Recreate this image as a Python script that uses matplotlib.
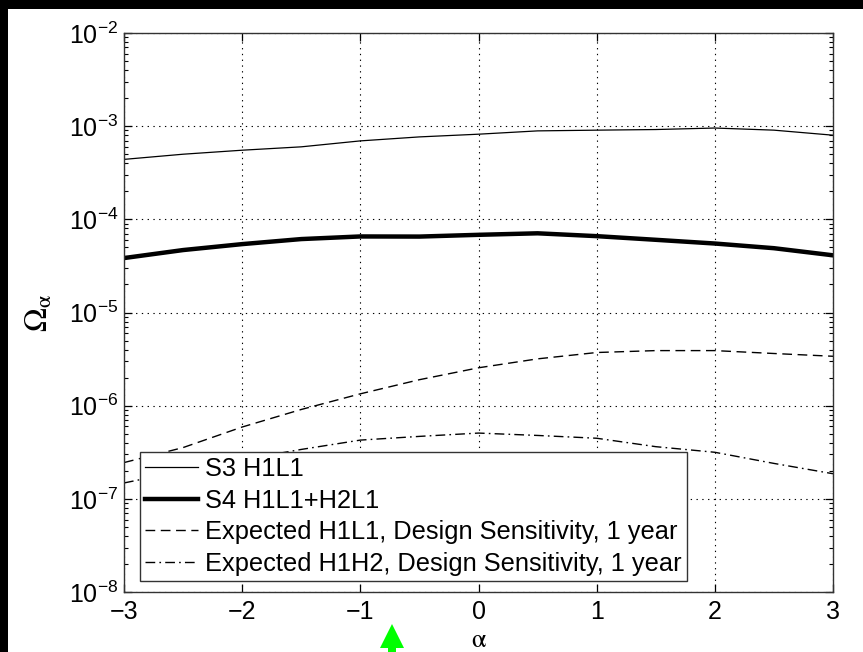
import numpy as np
import matplotlib
matplotlib.use("Agg")
import matplotlib.pyplot as plt
import matplotlib.ticker as ticker
from matplotlib.patches import Rectangle, Polygon

plt.rcParams["font.family"] = ["Liberation Sans", "DejaVu Sans"]
plt.rcParams["mathtext.fontset"] = "custom"
plt.rcParams["mathtext.rm"] = "Liberation Sans"
plt.rcParams["mathtext.it"] = "Liberation Sans:italic"
plt.rcParams["mathtext.bf"] = "Liberation Sans:bold"

# spectral index alpha and Omega_alpha upper limits / sensitivities
alpha = [-3.0, -2.5, -2.0, -1.5, -1.0, -0.5, 0.0, 0.5, 1.0, 1.5, 2.0, 2.5, 3.0]
s3_h1l1 = [4.40e-4, 5.00e-4, 5.52e-4, 6.00e-4, 6.95e-4, 7.67e-4, 8.20e-4,
           8.90e-4, 9.06e-4, 9.20e-4, 9.55e-4, 9.06e-4, 8.00e-4]
s4_h1l1_h2l1 = [3.84e-5, 4.68e-5, 5.42e-5, 6.14e-5, 6.55e-5, 6.53e-5, 6.82e-5,
                7.08e-5, 6.60e-5, 6.03e-5, 5.50e-5, 4.90e-5, 4.11e-5]
exp_h1l1 = [2.45e-7, 3.55e-7, 5.90e-7, 9.10e-7, 1.34e-6, 1.90e-6, 2.55e-6,
            3.18e-6, 3.72e-6, 3.90e-6, 3.90e-6, 3.63e-6, 3.39e-6]
exp_h1h2 = [1.48e-7, 2.00e-7, 2.63e-7, 3.39e-7, 4.27e-7, 4.68e-7, 5.08e-7,
            4.79e-7, 4.47e-7, 3.63e-7, 3.16e-7, 2.40e-7, 1.86e-7]

labels = ["S3 H1L1", "S4 H1L1+H2L1",
          "Expected H1L1, Design Sensitivity, 1 year",
          "Expected H1H2, Design Sensitivity, 1 year"]
xticks = [-3, -2, -1, 0, 1, 2, 3]
yticks = [1e-8, 1e-7, 1e-6, 1e-5, 1e-4, 1e-3, 1e-2]


def main():
    fig = plt.figure(figsize=(8.63, 6.52), dpi=100, facecolor="black")
    # white page area (black strip on top and left)
    fig.patches.append(Rectangle((8 / 863, 0), 1, 1 - 9 / 652, transform=fig.transFigure,
                                 facecolor="white", edgecolor="none", zorder=-10))
    ax = fig.add_axes([124 / 863, 1 - 592 / 652, 709 / 863, 559 / 652])
    ax.set_facecolor("white")

    ax.plot(alpha, s3_h1l1, color="black", lw=0.9, label=labels[0])
    ax.plot(alpha, s4_h1l1_h2l1, color="black", lw=3.2, label=labels[1])
    ax.plot(alpha, exp_h1l1, color="black", lw=1.0, dashes=(7, 4), label=labels[2])
    ax.plot(alpha, exp_h1h2, color="black", lw=1.0, dashes=(7, 3, 1.2, 3), label=labels[3])

    ax.set_yscale("log")
    ax.set_xlim(-3, 3)
    ax.set_ylim(1e-8, 1e-2)
    ax.set_xticks(xticks)
    ax.set_yticks(yticks)
    ax.yaxis.set_minor_locator(ticker.LogLocator(base=10, subs=np.arange(2, 10), numticks=100))
    ax.yaxis.set_minor_formatter(ticker.NullFormatter())

    ax.grid(True, which="major", color="black", lw=0.8, linestyle=(0, (1.2, 4)))
    ax.tick_params(which="both", direction="in", top=True, right=True, labelsize=18)
    ax.tick_params(which="major", length=6, width=0.9)
    ax.tick_params(which="minor", length=3, width=0.8)
    ax.tick_params(axis="x", pad=6)
    ax.tick_params(axis="y", pad=4)
    for sp in ax.spines.values():
        sp.set_linewidth(1.0)
        sp.set_color("#333333")

    ax.set_xlabel(r"$\mathrm{\alpha}$", fontsize=19, math_fontfamily="stix")
    ax.set_ylabel(r"$\mathrm{\Omega_{\alpha}}$", fontsize=23, math_fontfamily="stix", rotation=90)
    ax.xaxis.set_label_coords(0.5, -0.065)
    ax.yaxis.set_label_coords(-0.098, 0.5)

    leg = ax.legend(loc="lower left", bbox_to_anchor=(0.0226, 0.0197), fontsize=18.3,
                    fancybox=False, framealpha=1, edgecolor="#333333", borderpad=0.2,
                    labelspacing=0.3, handlelength=2.1, handletextpad=0.25,
                    borderaxespad=0)
    leg.get_frame().set_linewidth(1.0)

    # green marker arrow below the axis
    arrow = [(392, 624), (404, 648), (396, 648), (396, 652), (388, 652), (388, 648), (380, 648)]
    fig.patches.append(Polygon([(px / 863, 1 - py / 652) for px, py in arrow],
                               transform=fig.transFigure, facecolor="#00ff00", edgecolor="none"))

    fig.savefig("out.png", dpi=100, facecolor=fig.get_facecolor())


if __name__ == "__main__":
    main()
